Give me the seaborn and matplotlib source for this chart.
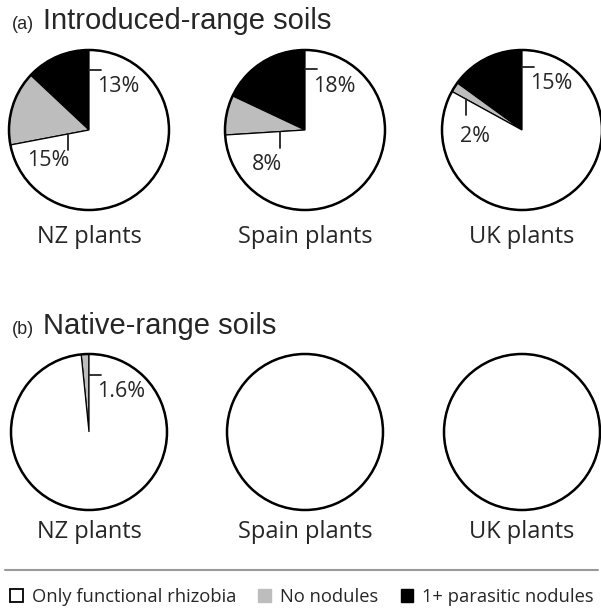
import matplotlib
matplotlib.use('Agg')
import matplotlib.pyplot as plt
from matplotlib.patches import Patch
from matplotlib.lines import Line2D
import numpy as np
import seaborn as sns

# data: percentage of plants in each nodulation class
plants = ['NZ plants', 'Spain plants', 'UK plants']
categories = ['Only functional rhizobia', 'No nodules', '1+ parasitic nodules']
intro_parasitic = [13, 18, 15]
intro_no_nodules = [15, 8, 2]
native_parasitic = [0, 0, 0]
native_no_nodules = [1.6, 0, 0]

sns.set_theme(style='white')
plt.rcParams['font.family'] = ['Open Sans', 'DejaVu Sans']

pal = sns.color_palette(['#ffffff', '#bdbdbd', '#000000'])
c_func, c_none, c_para = pal[0], pal[1], pal[2]

W, H = 601, 610
fig = plt.figure(figsize=(W / 100, H / 100), dpi=100)

# layout (pixels from top-left)
xs = [89, 305, 522]
panels = [
    dict(tag='(a)', title='Introduced-range soils', title_y=29, cy=130, r=80, name_y=243,
         para=intro_parasitic, nonod=intro_no_nodules,
         top_y=[0.75, 0.76, 0.79], low_x=[-0.26, -0.31, -0.70],
         low_ha=['right', 'right', 'left'], low_gap=[0.0, 0.08, 0.14]),
    dict(tag='(b)', title='Native-range soils', title_y=334, cy=432, r=78, name_y=538,
         para=native_parasitic, nonod=native_no_nodules,
         top_y=[0.73, 0.73, 0.73], low_x=[-0.3, -0.3, -0.3],
         low_ha=['right', 'right', 'right'], low_gap=[0.05, 0.05, 0.05]),
]


def draw_pie(ax, para, nonod, top_y, low_x, low_ha, low_gap):
    vals = [para, nonod, 100 - para - nonod]
    cols = [c_para, c_none, c_func]
    keep = [i for i, v in enumerate(vals) if v > 0]
    ax.pie([vals[i] for i in keep], colors=[cols[i] for i in keep],
           startangle=90, counterclock=True,
           wedgeprops=dict(edgecolor='black', linewidth=0.9))
    ax.pie([1], colors=['none'],
           wedgeprops=dict(fill=False, edgecolor='black', linewidth=1.8))
    ax.set_xlim(-1, 1)
    ax.set_ylim(-1, 1)

    labelled = [vals[i] for i in keep if i < 2]
    for k, v in enumerate(labelled):
        txt = f'{v:g}%'
        if k == 0:
            ax.plot([0, 0.15], [top_y, top_y], color='#222222', lw=1.3)
            ax.text(0.1, top_y - 0.08, txt, ha='left', va='top', fontsize=15.5)
        else:
            theta = np.deg2rad(90 + (labelled[0] + v) * 3.6)
            y0 = low_x * np.tan(theta)
            y1 = y0 - 0.2
            ax.plot([low_x, low_x], [y0, y1], color='#222222', lw=1.3)
            dx = 0.02 if low_ha == 'right' else -0.07
            ax.text(low_x + dx, y1 - low_gap, txt, ha=low_ha, va='top', fontsize=15.5)


for p in panels:
    fig.text(12 / W, 1 - p['title_y'] / H, p['tag'], fontsize=13,
             family='Liberation Sans', va='baseline')
    fig.text(43 / W, 1 - p['title_y'] / H, p['title'], fontsize=21,
             family='Liberation Sans', va='baseline')
    r, cy = p['r'], p['cy']
    for j, cx in enumerate(xs):
        ax = fig.add_axes([(cx - r) / W, 1 - (cy + r) / H, 2 * r / W, 2 * r / H])
        draw_pie(ax, p['para'][j], p['nonod'][j], p['top_y'][j], p['low_x'][j],
                 p['low_ha'][j], p['low_gap'][j])
        fig.text(cx / W, 1 - p['name_y'] / H, plants[j], ha='center', va='baseline', fontsize=17)

# separator line above legend
fig.add_artist(Line2D([5 / W, 598 / W], [1 - 570 / H, 1 - 570 / H], color='#999999', lw=1.5))

handles = [Patch(facecolor=c_func, edgecolor='black', linewidth=1.3),
           Patch(facecolor=c_none, edgecolor=c_none),
           Patch(facecolor=c_para, edgecolor=c_para)]
fig.legend(handles, categories, loc='center', bbox_to_anchor=(302 / W, 1 - 597 / H),
           ncol=3, frameon=False, fontsize=13.2, handlelength=0.7, handleheight=0.7,
           handletextpad=0.5, columnspacing=1.2, borderpad=0, borderaxespad=0)

fig.savefig('out.png', dpi=100)
